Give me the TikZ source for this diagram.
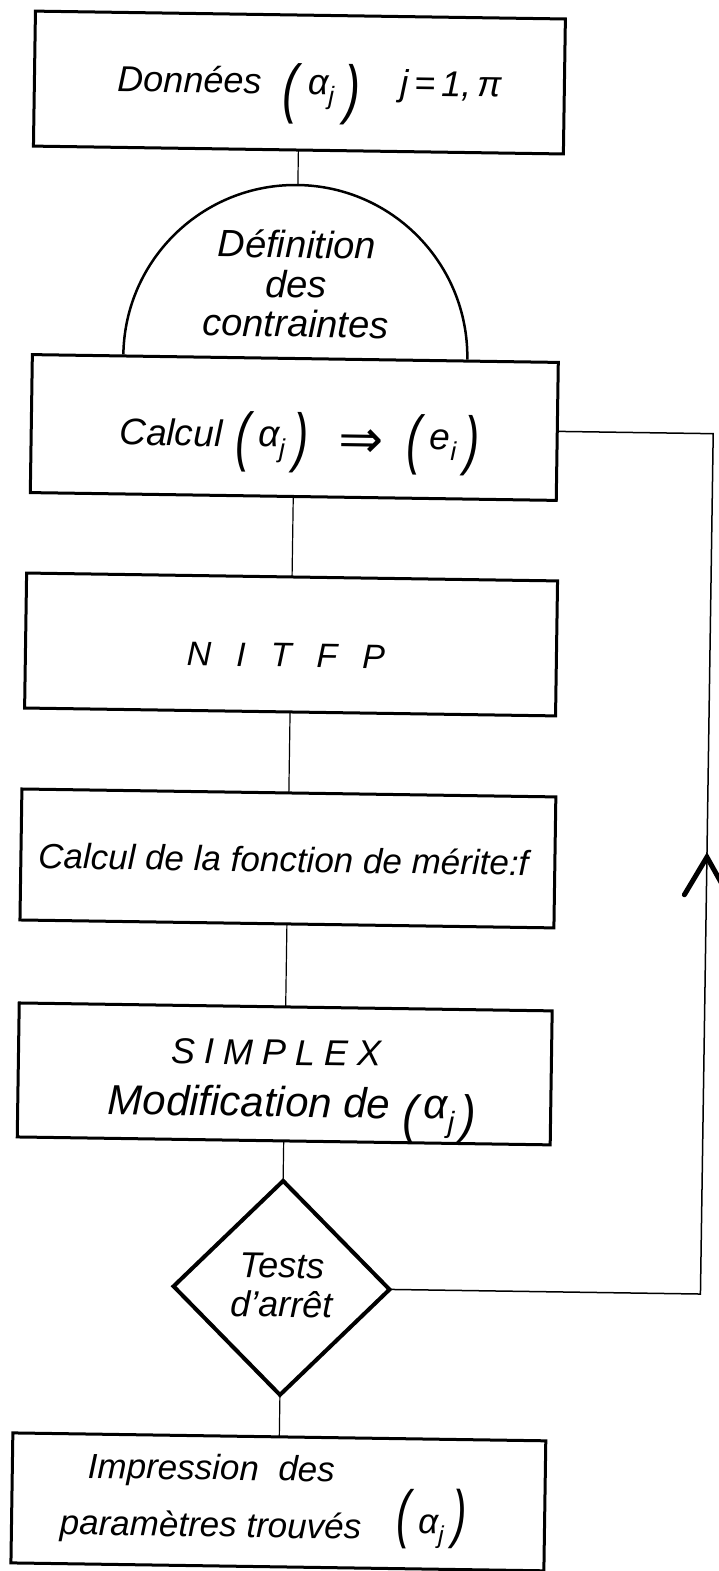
\documentclass[tikz,border=0pt]{standalone}
\usepackage{fontspec}
\setmainfont{Liberation Sans}
\newfontfamily\symfont{DejaVu Sans}
\usetikzlibrary{shapes.geometric}

% tall hand-drawn parentheses: x-scale, y-scale, vertical shift
\newcommand\tallL[3]{\raisebox{#3}[0pt][0pt]{\scalebox{#1}[#2]{(}}}
\newcommand\tallR[3]{\raisebox{#3}[0pt][0pt]{\scalebox{#1}[#2]{)}}}
\newcommand\paired[4]{\tallL{#1}{#2}{#3}#4\tallR{#1}{#2}{#3}}
\newcommand\sz[2]{\fontsize{#1bp}{#2bp}\selectfont}

\tikzset{
  flowbox/.style={draw, rectangle, line width=3bp, inner sep=0pt, outer sep=0pt, font=\itshape},
  testbox/.style={draw, diamond, line width=4bp, inner sep=0pt, outer sep=0pt, font=\itshape},
  link/.style={line width=1.2bp},
  loopline/.style={line width=1.5bp},
  capline/.style={line width=2.5bp},
  chev/.style={line width=5bp, line cap=round},
}

\begin{document}
\begin{tikzpicture}[x=1bp, y=-1bp]
\useasboundingbox (0,0) rectangle (719,1571);
\fill[white] (0,0) rectangle (719,1571);

\begin{scope}[rotate around={-0.85:(360,785)}, transform shape]

% input data
\node[flowbox, minimum width=530bp, minimum height=135bp, text height=23bp, text depth=0pt] (data) at (289,83.5)
  {\sz{36}{43}\hspace*{20bp}Données\hspace{21bp}\paired{1.3}{1.81}{-0.47em}{\hspace{10bp}α\textsubscript{j}\hspace{10bp}}\hspace{40bp}j\,=\,1,\,π};

% constraint definition (half disc resting on the next box)
\coordinate (capL) at (117,358);
\coordinate (capTop) at (289,186);
\draw[capline] (capL) arc[start angle=180, end angle=360, radius=172];
\node[font=\itshape, anchor=base, inner sep=0pt] (def) at (289,259)
  {\sz{38}{39.5}\begin{tabular}[t]{@{}c@{}}Définition\\des\\contraintes\end{tabular}};

% computation of e_i
\node[flowbox, minimum width=526bp, minimum height=138bp, text height=40bp, text depth=0pt] (calc) at (289,428.5)
  {\sz{37}{44}\hspace*{11bp}Calcul\hspace{13bp}\paired{1.2}{1.76}{-0.33em}{\hspace{8bp}α\textsubscript{j}\hspace{8bp}}\hspace{30bp}\raisebox{-9bp}{\scalebox{1.45}{\symfont ⇒}}\hspace{24bp}\paired{1.2}{1.76}{-0.33em}{\hspace{8bp}e\textsubscript{i}\hspace{8bp}}};

\node[flowbox, minimum width=531bp, minimum height=135bp, text height=45bp, text depth=0pt] (nitfp) at (289,645.5)
  {\sz{34}{40}N\hspace{25bp}I\hspace{25bp}T\hspace{25bp}F\hspace{25bp}P\hspace*{10bp}};

\node[flowbox, minimum width=534bp, minimum height=131bp, text height=27bp, text depth=0pt] (merit) at (289,859.5)
  {\sz{35}{42}Calcul de la fonction de mérite:f\hspace*{9bp}};

\node[flowbox, minimum width=533bp, minimum height=134bp, text height=0pt, text depth=18bp] (simplex) at (289,1075)
  {\sz{36}{52}\begin{tabular}[t]{@{}c@{}}S\hspace{9bp}I\hspace{9bp}M\hspace{9bp}P\hspace{9bp}L\hspace{9bp}E\hspace{9bp}X\hspace*{18bp}\\
   \hspace*{16bp}\sz{42}{52}Modification de\hspace{12bp}\paired{1.1}{1.25}{-0.32em}{\hspace{6bp}α\textsubscript{j}\hspace{6bp}}\end{tabular}};

% stopping test
\node[testbox, minimum width=216bp, minimum height=214bp, text height=0pt, text depth=20bp] (test) at (289,1289)
  {\sz{36}{39}\begin{tabular}[t]{@{}c@{}}Tests\\d’arrêt\end{tabular}};

% output
\node[flowbox, minimum width=533bp, minimum height=130bp, text height=0pt, text depth=42bp] (print) at (289,1503)
  {\sz{35}{57}\begin{tabular}[t]{@{}c@{}}Impression\ \ des\\paramètres trouvés\end{tabular}\hspace{35bp}\raisebox{-51bp}{\paired{1.2}{1.83}{-0.044em}{\hspace{8bp}α\textsubscript{j}\hspace{8bp}}}\hspace*{30bp}};

% main chain
\draw[link] (data.south) -- (capTop);
\draw[link] (calc.south) -- (nitfp.north);
\draw[link] (nitfp.south) -- (merit.north);
\draw[link] (merit.south) -- (simplex.north);
\draw[link] (simplex.south) -- (test.north);
\draw[link] (test.south) -- (print.north);

% iteration loop back to the computation box
\coordinate (loopx) at (708,0);
\draw[loopline] (test.east) -- (test.east -| loopx) |- (calc.east);
\coordinate (tip) at (708,852);
\draw[chev] ([shift={(-22,38)}]tip) -- (tip) -- ([shift={(22,38)}]tip);

\end{scope}
\end{tikzpicture}
\end{document}
